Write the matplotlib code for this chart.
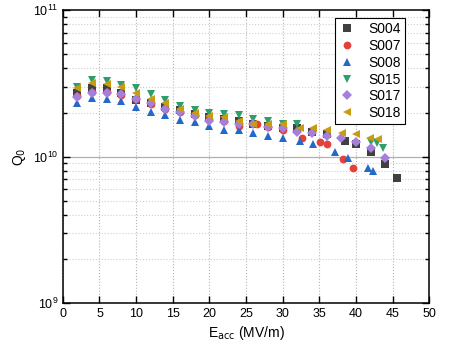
import matplotlib.pyplot as plt
from matplotlib.ticker import LogLocator, NullFormatter, MultipleLocator

plt.rcParams['font.family'] = ['Liberation Sans', 'DejaVu Sans']

# S004
e_s004 = [2, 4, 6, 8, 10, 12, 14, 16, 18, 20, 22, 24, 26, 28, 30, 32, 34, 36, 38.5, 40, 42, 44, 45.6]
q_s004 = [2.70e10, 2.92e10, 2.92e10, 2.74e10, 2.42e10, 2.31e10, 2.17e10, 2.07e10, 1.94e10, 1.85e10,
          1.82e10, 1.74e10, 1.68e10, 1.63e10, 1.58e10, 1.56e10, 1.48e10, 1.42e10, 1.27e10, 1.21e10,
          1.08e10, 8.96e9, 7.18e9]
# S007
e_s007 = [2, 4, 6, 8, 10, 12, 14, 16, 18, 20, 22, 24, 26.5, 28, 30, 32.6, 35.1, 36.1, 38.3, 39.6]
q_s007 = [2.58e10, 2.78e10, 2.78e10, 2.62e10, 2.46e10, 2.28e10, 2.13e10, 2.03e10, 1.91e10, 1.82e10,
          1.76e10, 1.63e10, 1.66e10, 1.60e10, 1.51e10, 1.35e10, 1.25e10, 1.21e10, 9.69e9, 8.41e9]
# S008
e_s008 = [2, 4, 6, 8, 10, 12, 14, 16, 18, 20, 22, 24, 26, 28, 30, 32.4, 34.1, 37.2, 38.9, 41.6, 42.3]
q_s008 = [2.31e10, 2.50e10, 2.46e10, 2.38e10, 2.17e10, 2.03e10, 1.91e10, 1.79e10, 1.71e10, 1.63e10,
          1.53e10, 1.51e10, 1.46e10, 1.39e10, 1.35e10, 1.27e10, 1.21e10, 1.08e10, 9.85e9, 8.3e9, 8.0e9]
# S015
e_s015 = [2, 4, 6, 8, 10, 12, 14, 16, 18, 20, 22, 24, 26, 28, 30, 32, 42, 42.9, 43.7]
q_s015 = [3.01e10, 3.32e10, 3.27e10, 3.06e10, 2.92e10, 2.66e10, 2.42e10, 2.20e10, 2.07e10, 1.97e10,
          1.94e10, 1.91e10, 1.82e10, 1.74e10, 1.68e10, 1.66e10, 1.25e10, 1.23e10, 1.15e10]
# S017
e_s017 = [2, 4, 6, 8, 10, 12, 14, 16, 18, 20, 22, 24, 26, 28, 30, 32, 34, 36, 38, 40, 42, 44]
q_s017 = [2.54e10, 2.74e10, 2.74e10, 2.66e10, 2.46e10, 2.31e10, 2.13e10, 2.03e10, 1.88e10, 1.74e10,
          1.71e10, 1.66e10, 1.66e10, 1.60e10, 1.58e10, 1.48e10, 1.44e10, 1.39e10, 1.35e10, 1.25e10,
          1.15e10, 9.85e9]
# S018
e_s018 = [2, 4, 6, 8, 10, 12, 14, 16, 18, 20, 22, 24, 26, 28, 30, 32.4, 34.2, 36.1, 38.1, 40, 41.9, 43]
q_s018 = [2.92e10, 3.16e10, 3.11e10, 2.97e10, 2.70e10, 2.46e10, 2.31e10, 2.10e10, 2.00e10, 1.88e10,
          1.85e10, 1.74e10, 1.68e10, 1.68e10, 1.66e10, 1.58e10, 1.56e10, 1.53e10, 1.46e10, 1.42e10,
          1.35e10, 1.31e10]

series = [
    ('S004', e_s004, q_s004, 's', '#404040'),
    ('S007', e_s007, q_s007, 'o', '#e5403b'),
    ('S008', e_s008, q_s008, '^', '#2468c8'),
    ('S015', e_s015, q_s015, 'v', '#2f9e6c'),
    ('S017', e_s017, q_s017, 'D', '#a67fdc'),
    ('S018', e_s018, q_s018, '<', '#c99c10'),
]

fig = plt.figure(figsize=(4.69, 3.5), dpi=100)
ax = fig.add_axes([0.134, 0.134, 0.781, 0.837])

for name, e, q, m, c in series:
    ms = {'s': 5.2, 'o': 5.6, 'D': 4.6}.get(m, 6.2)
    ax.plot(e, q, linestyle='none', marker=m, color=c, markersize=ms,
            markeredgewidth=0, label=name, zorder=3)

ax.set_yscale('log')
ax.set_xlim(0, 50)
ax.set_ylim(1e9, 1e11)
ax.xaxis.set_major_locator(MultipleLocator(5))
ax.yaxis.set_major_locator(LogLocator(base=10, numticks=5))
ax.yaxis.set_minor_locator(LogLocator(base=10, subs=range(2, 10), numticks=10))
ax.yaxis.set_minor_formatter(NullFormatter())

ax.grid(True, axis='x', which='major', linestyle=':', color='#b4b4b4', linewidth=0.8)
ax.grid(True, axis='y', which='minor', linestyle=':', color='#d0d0d0', linewidth=0.8)
ax.axhline(1e10, color='#b0b0b0', linewidth=0.9, zorder=1)

ax.tick_params(which='both', direction='in', top=True, right=True, labelsize=9, width=1)
ax.tick_params(which='major', length=5)
ax.tick_params(which='minor', length=3)
ax.tick_params(axis='x', which='minor', top=False, bottom=False)
for s in ax.spines.values():
    s.set_linewidth(1.1)

ax.set_xlabel('E$_{\\rm acc}$ (MV/m)', fontsize=10, labelpad=3)
ax.set_ylabel('Q$_{\\rm 0}$', fontsize=10, labelpad=3)

leg = ax.legend(loc='upper right', bbox_to_anchor=(0.934, 0.973), borderaxespad=0,
                fontsize=10, frameon=True, fancybox=False, edgecolor='black', framealpha=1,
                handletextpad=0.9, borderpad=0.3, labelspacing=0.2, handlelength=1.2)
leg.get_frame().set_linewidth(0.8)

fig.savefig('out.png', dpi=100)
